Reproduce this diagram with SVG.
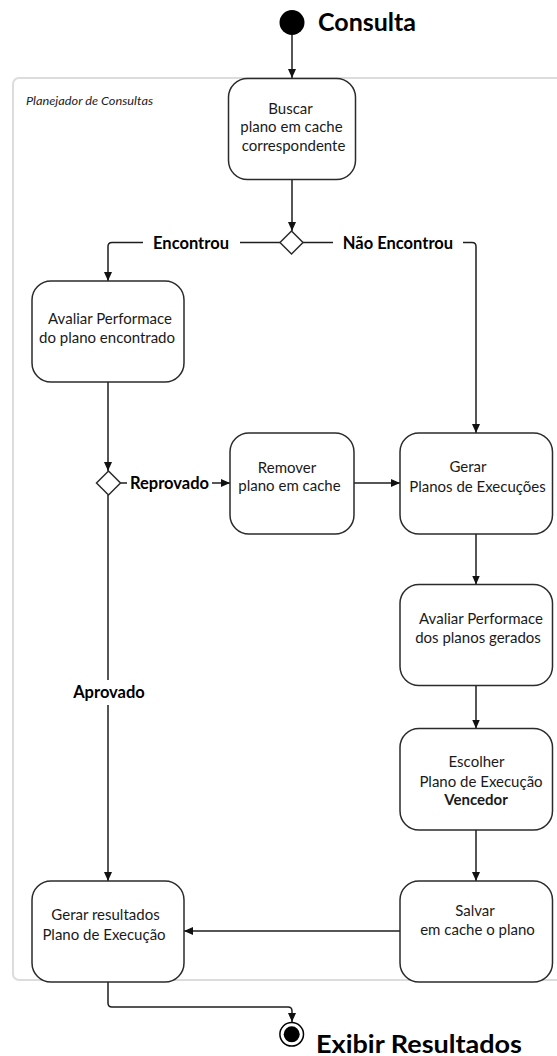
<svg xmlns="http://www.w3.org/2000/svg" width="557" height="1056" viewBox="0 0 557 1056">
  <defs>
    <marker id="arrow" markerUnits="userSpaceOnUse" markerWidth="9" markerHeight="8" refX="9" refY="4" orient="auto">
      <path d="M0,0 L9,4 L0,8 z" fill="#111"/>
    </marker>
  </defs>
  <style>
    .frame { fill: none; stroke: #dcdcdc; stroke-width: 2; }
    .act { fill: #fff; stroke: #2b2b2b; stroke-width: 1.5; }
    .dec { fill: #fff; stroke: #2b2b2b; stroke-width: 1.5; }
    .edge { fill: none; stroke: #1e1e1e; stroke-width: 1.5; }
    .t { font-family: Lato, "Open Sans", sans-serif; font-size: 15px; fill: #1a1a1a; text-anchor: middle; }
    .b { font-weight: bold; }
    .lbl { font-family: Lato, "Open Sans", sans-serif; font-size: 16.5px; font-weight: bold; fill: #000; text-anchor: middle; }
    .title { font-family: Lato, "Open Sans", sans-serif; font-size: 25px; font-weight: bold; fill: #000; }
    .lane { font-family: Lato, "Open Sans", sans-serif; font-size: 12px; font-style: italic; fill: #222; }
    .bg { fill: #fff; }
  </style>

  <!-- swimlane frame -->
  <g id="lane">
    <rect class="frame" x="13" y="78" width="570" height="902" rx="6"/>
    <text class="lane" x="26" y="105" textLength="127" lengthAdjust="spacingAndGlyphs">Planejador de Consultas</text>
  </g>

  <!-- connectors -->
  <g id="connectors">
    <path class="edge" d="M292,35 V78" marker-end="url(#arrow)"/>
    <path class="edge" d="M292,180 V231" marker-end="url(#arrow)"/>
    <path class="edge" d="M280,242.5 H112 Q108,242.5 108,246.5 V281" marker-end="url(#arrow)"/>
    <path class="edge" d="M303,242.5 H472 Q476,242.5 476,246.5 V433" marker-end="url(#arrow)"/>
    <path class="edge" d="M108,382 V471" marker-end="url(#arrow)"/>
    <path class="edge" d="M120.5,483 H230" marker-end="url(#arrow)"/>
    <path class="edge" d="M354,483 H400" marker-end="url(#arrow)"/>
    <path class="edge" d="M108,495 V881" marker-end="url(#arrow)"/>
    <path class="edge" d="M476,534 V584.5" marker-end="url(#arrow)"/>
    <path class="edge" d="M476,685.5 V728.5" marker-end="url(#arrow)"/>
    <path class="edge" d="M476,830 V881" marker-end="url(#arrow)"/>
    <path class="edge" d="M400,931 H184" marker-end="url(#arrow)"/>
    <path class="edge" d="M108,982 V1003 Q108,1007 112,1007 H288 Q292,1007 292,1011 V1022" marker-end="url(#arrow)"/>

    <!-- edge labels -->
    <rect class="bg" x="143" y="234" width="97" height="18"/>
    <text class="lbl" x="191" y="248.5">Encontrou</text>
    <rect class="bg" x="333" y="234" width="130" height="18"/>
    <text class="lbl" x="398" y="248.5">Não Encontrou</text>
    <rect class="bg" x="127" y="474" width="85" height="18"/>
    <text class="lbl" x="169.5" y="488.5">Reprovado</text>
    <rect class="bg" x="70" y="680" width="78" height="25"/>
    <text class="lbl" x="109" y="697.5">Aprovado</text>
  </g>

  <!-- start node -->
  <g id="start">
    <circle cx="292" cy="22.5" r="12.5" fill="#000"/>
    <text class="title" x="318" y="30.5">Consulta</text>
  </g>

  <g id="buscar">
    <rect class="act" x="228.5" y="78.5" width="127" height="101" rx="19"/>
    <text class="t" x="290.5" y="113.5">Buscar</text>
    <text class="t" x="291.5" y="132">plano em cache</text>
    <text class="t" x="293.5" y="150.5">correspondente</text>
  </g>

  <g id="decisao-cache">
    <polygon class="dec" points="291.5,231 303,242.5 291.5,254 280,242.5"/>
  </g>

  <g id="avaliar-encontrado">
    <rect class="act" x="32" y="281" width="152" height="101" rx="19"/>
    <text class="t" x="110" y="324">Avaliar Performace</text>
    <text class="t" x="107" y="343">do plano encontrado</text>
  </g>

  <g id="decisao-performance">
    <polygon class="dec" points="108.5,471 120.5,483 108.5,495 96.5,483"/>
  </g>

  <g id="remover">
    <rect class="act" x="230" y="433" width="124" height="101" rx="19"/>
    <text class="t" x="287" y="473">Remover</text>
    <text class="t" x="289.5" y="490.5">plano em cache</text>
  </g>

  <g id="gerar-planos">
    <rect class="act" x="400" y="433" width="152.5" height="101" rx="19"/>
    <text class="t" x="468" y="472">Gerar</text>
    <text class="t" x="477.5" y="491.5">Planos de Execuções</text>
  </g>

  <g id="avaliar-gerados">
    <rect class="act" x="400" y="584.5" width="152.5" height="101" rx="19"/>
    <text class="t" x="481" y="623.5">Avaliar Performace</text>
    <text class="t" x="478" y="643">dos planos gerados</text>
  </g>

  <g id="escolher">
    <rect class="act" x="400" y="728.5" width="152.5" height="101.5" rx="19"/>
    <text class="t" x="476.5" y="767">Escolher</text>
    <text class="t" x="481" y="786.5">Plano de Execução</text>
    <text class="t b" x="476" y="805">Vencedor</text>
  </g>

  <g id="salvar">
    <rect class="act" x="400" y="881" width="152.5" height="101" rx="19"/>
    <text class="t" x="475" y="915.5">Salvar</text>
    <text class="t" x="477.5" y="935">em cache o plano</text>
  </g>

  <g id="gerar-resultados">
    <rect class="act" x="32" y="881" width="152" height="101" rx="19"/>
    <text class="t" x="105.5" y="920">Gerar resultados</text>
    <text class="t" x="104" y="940">Plano de Execução</text>
  </g>

  <!-- final node -->
  <g id="fim">
    <circle cx="291.7" cy="1034.3" r="11.8" fill="#fff" stroke="#000" stroke-width="1.5"/>
    <circle cx="291.7" cy="1034.3" r="8" fill="#000"/>
    <text class="title" x="316" y="1052.5" textLength="206" lengthAdjust="spacingAndGlyphs">Exibir Resultados</text>
  </g>
</svg>
